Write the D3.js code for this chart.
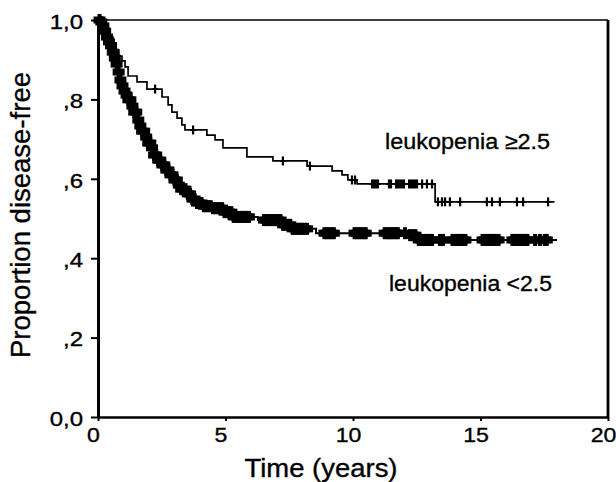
<!DOCTYPE html>
<html>
<head>
<meta charset="utf-8">
<script src="https://cdn.jsdelivr.net/npm/d3@7"></script>
<style>
  body { margin: 0; background: #fff; }
  text { font-family: "Liberation Sans", Arial, sans-serif; fill: #000; stroke: #000; stroke-width: 0.35px; }
</style>
</head>
<body>
<svg width="616" height="482"></svg>
<script>
const xTicks = [0, 5, 10, 15, 20];
const yTicks = [0, 0.2, 0.4, 0.6, 0.8, 1.0];
const yTickLabels = ["0,0", ",2", ",4", ",6", ",8", "1,0"];

// leukopenia >=2.5 : event times (years) and survival after each event
const highTimes = [0.12, 0.24, 0.35, 0.47, 0.59, 0.71, 0.82, 0.94, 1.06, 1.18, 1.53, 1.92,
  2.51, 2.75, 2.90, 3.10, 3.29, 3.41, 4.27, 4.59, 4.90, 5.84, 6.86, 8.20, 9.18, 9.57,
  9.80, 10.16, 13.22];
const highSurv = [0.992, 0.982, 0.970, 0.957, 0.942, 0.924, 0.909, 0.897, 0.882, 0.859,
  0.844, 0.826, 0.806, 0.786, 0.768, 0.753, 0.736, 0.723, 0.710, 0.698, 0.678, 0.655,
  0.645, 0.632, 0.620, 0.610, 0.597, 0.587, 0.542];
const highCensor = [2.24, 3.73, 7.25, 8.31, 9.96, 10.08, 10.75, 10.82, 10.90, 10.98,
  11.41, 11.49, 11.69, 11.76, 11.84, 11.92, 12.00, 12.20, 12.27, 12.35, 12.43, 12.51,
  12.71, 12.90, 13.10, 13.33, 13.49, 13.61, 13.80, 14.20, 15.25, 15.45, 15.76, 16.43,
  16.67, 17.65];
const highEnd = 17.9;

// leukopenia <2.5
const lowTimes = [0.08, 0.16, 0.24, 0.31, 0.39, 0.47, 0.55, 0.63, 0.71, 0.78, 0.86, 0.94,
  1.02, 1.10, 1.18, 1.29, 1.41, 1.53, 1.65, 1.73, 1.84, 1.96, 2.08, 2.20, 2.31, 2.47,
  2.63, 2.78, 2.94, 3.10, 3.25, 3.45, 3.65, 3.84, 4.12, 4.51, 4.94, 5.29, 6.27, 7.18,
  7.61, 8.55, 12.16, 12.51];
const lowSurv = [0.995, 0.985, 0.972, 0.957, 0.945, 0.935, 0.919, 0.904, 0.889, 0.869,
  0.849, 0.834, 0.821, 0.811, 0.799, 0.783, 0.768, 0.748, 0.733, 0.720, 0.705, 0.690,
  0.678, 0.660, 0.647, 0.635, 0.622, 0.610, 0.597, 0.584, 0.574, 0.562, 0.549, 0.539,
  0.531, 0.526, 0.516, 0.504, 0.496, 0.484, 0.474, 0.463, 0.458, 0.446];
const lowCensor = [0.06, 0.13, 0.21, 0.28, 0.35, 0.43, 0.51, 0.58, 0.66, 0.73, 0.81, 0.88,
  0.96, 1.04, 1.12, 1.19, 1.27, 1.35, 1.42, 1.50, 1.58, 1.66, 1.73, 1.81, 1.89, 1.97,
  2.05, 2.12, 2.20, 2.28, 2.36, 2.44, 2.52, 2.60, 2.68, 2.76, 2.84, 2.92, 3.00, 3.09,
  3.17, 3.26, 3.34, 3.43, 3.52, 3.61, 3.70, 3.79, 3.88, 3.97, 4.06, 4.15, 4.24, 4.33,
  4.42, 4.51, 4.60, 4.69, 4.78, 4.87, 4.96, 5.05, 5.14, 5.23, 5.32, 5.41, 5.50, 5.59,
  5.68, 5.77, 5.86, 5.92,
  6.51, 6.60, 6.70, 6.79, 6.88, 6.98, 7.07, 7.16, 7.26, 7.35, 7.44, 7.54, 7.63, 7.72,
  7.82, 7.91, 8.00, 8.10, 8.20,
  8.88, 8.97, 9.07, 9.16, 9.25,
  10.06, 10.15, 10.24, 10.33, 10.42, 10.50,
  11.24, 11.33, 11.42, 11.50, 11.59, 11.68, 11.76,
  12.04, 12.24, 12.36, 12.45, 12.58, 12.67, 12.76, 12.85, 12.94, 13.03, 13.10,
  13.41, 13.53,
  13.90, 13.99, 14.08, 14.17, 14.25, 14.33, 14.41,
  15.08, 15.17, 15.26, 15.35, 15.44, 15.53, 15.62, 15.71,
  16.25, 16.34, 16.43, 16.52, 16.61, 16.70, 16.78, 16.84,
  17.14, 17.33, 17.52, 17.60];
const lowEnd = 18.0;

const groupLabels = ["leukopenia \u22652.5", "leukopenia <2.5"];

const svg = d3.select("svg");

const x = d3.scaleLinear().domain([0, 20]).range([98, 608]);
const y = d3.scaleLinear().domain([0, 1]).range([417, 20]);

// frame: top + right lines
svg.append("line")
  .attr("x1", x(0)).attr("x2", x(20))
  .attr("y1", y(1)).attr("y2", y(1))
  .attr("stroke", "#000").attr("stroke-width", 1.7);
svg.append("line")
  .attr("x1", x(20)).attr("x2", x(20))
  .attr("y1", y(1)).attr("y2", y(0))
  .attr("stroke", "#000").attr("stroke-width", 2.8);

const gx = svg.append("g")
  .attr("transform", `translate(0,${y(0)})`)
  .call(d3.axisBottom(x).tickValues(xTicks).tickSize(4).tickSizeOuter(0));
gx.select(".domain").attr("stroke-width", 2.7);
gx.selectAll(".tick line").attr("stroke-width", 2);
gx.selectAll(".tick text")
  .attr("y", 0).attr("dy", 0)
  .attr("transform", "translate(-5,25) scale(1.1,1)")
  .style("font-size", "21px");

const gy = svg.append("g")
  .attr("transform", `translate(${x(0)},0)`)
  .call(d3.axisLeft(y).tickValues(yTicks).tickFormat((d, i) => yTickLabels[i])
    .tickSize(7).tickSizeOuter(0));
gy.select(".domain").attr("stroke-width", 3);
gy.selectAll(".tick line").attr("stroke-width", 2);
gy.selectAll(".tick text")
  .attr("x", 0).attr("dy", "0.36em")
  .attr("transform", "translate(-15,1) scale(1.2,1)")
  .style("font-size", "20px");
svg.selectAll(".domain, .tick line").attr("stroke", "#000");

// axis titles
svg.append("text")
  .attr("x", 321).attr("y", 477)
  .attr("text-anchor", "middle")
  .attr("textLength", 153).attr("lengthAdjust", "spacingAndGlyphs")
  .style("font-size", "25px")
  .text("Time (years)");

svg.append("text")
  .attr("transform", "translate(30,215) rotate(-90)")
  .attr("text-anchor", "middle")
  .attr("textLength", 286).attr("lengthAdjust", "spacingAndGlyphs")
  .style("font-size", "27px")
  .text("Proportion disease-free");

// KM curves
function stepData(times, surv, end) {
  const pts = [[0, 1]];
  times.forEach((t, i) => pts.push([t, surv[i]]));
  pts.push([end, surv[surv.length - 1]]);
  return pts;
}
function survAt(times, surv, t) {
  let s = 1;
  times.forEach((tt, i) => { if (tt <= t) s = surv[i]; });
  return s;
}

const line = d3.line()
  .x(d => x(d[0]))
  .y(d => y(d[1]))
  .curve(d3.curveStepAfter);

// censor marks: half width / half height / stroke per group
const curves = [
  { times: highTimes, surv: highSurv, censor: highCensor, end: highEnd, lw: 1.7, hw: 3, hh: 4.5, hs: 1.8, vs: 2.2 },
  { times: lowTimes, surv: lowSurv, censor: lowCensor, end: lowEnd, lw: 2, hw: 6, hh: 6, hs: 7, vs: 4 }
];

curves.forEach(c => {
  svg.append("path")
    .datum(stepData(c.times, c.surv, c.end))
    .attr("fill", "none")
    .attr("stroke", "#000")
    .attr("stroke-width", c.lw)
    .attr("d", line);

  const g = svg.append("g").attr("stroke", "#000").attr("fill", "none");
  g.selectAll("path.h")
    .data(c.censor)
    .join("path")
    .attr("class", "h")
    .attr("stroke-width", c.hs)
    .attr("d", t => {
      const cx = x(t), cy = y(survAt(c.times, c.surv, t));
      return `M${cx - c.hw},${cy}H${cx + c.hw}`;
    });
  g.selectAll("path.v")
    .data(c.censor)
    .join("path")
    .attr("class", "v")
    .attr("stroke-width", c.vs)
    .attr("d", t => {
      const cx = x(t), cy = y(survAt(c.times, c.surv, t));
      return `M${cx},${cy - c.hh}V${cy + c.hh}`;
    });
});

// group labels
svg.append("text")
  .attr("x", 385).attr("y", 149)
  .attr("textLength", 165).attr("lengthAdjust", "spacingAndGlyphs")
  .style("font-size", "22px")
  .text(groupLabels[0]);
svg.append("text")
  .attr("x", 389).attr("y", 291)
  .attr("textLength", 163).attr("lengthAdjust", "spacingAndGlyphs")
  .style("font-size", "22px")
  .text(groupLabels[1]);
</script>
</body>
</html>
